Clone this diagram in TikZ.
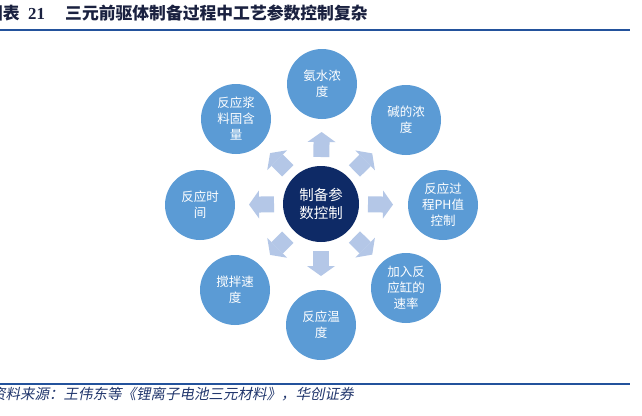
\documentclass[tikz,border=0pt]{standalone}
\usepackage{fontspec}
\setmainfont{Liberation Serif}
\newfontfamily\cjk{Noto Sans CJK SC}
\newfontfamily\cjkit[FakeSlant=0.2]{Noto Sans CJK SC}
\usetikzlibrary{arrows.meta,calc}

\definecolor{paramblue}{HTML}{5B9BD5}
\definecolor{corenavy}{HTML}{0E2A66}
\definecolor{pushblue}{HTML}{B4C7E7}
\definecolor{ruleblue}{HTML}{23529C}
\definecolor{titleink}{HTML}{1A2140}
\definecolor{sourceink}{HTML}{23386E}

\begin{document}
\begin{tikzpicture}[
  x=1pt, y=-1pt,
  param/.style={circle, fill=paramblue, text=white, minimum size=70pt, inner sep=0pt, align=center, font=\cjk\fontsize{12.5}{16}\selectfont},
  core/.style={circle, fill=corenavy, text=white, minimum size=76pt, inner sep=0pt, align=center, font=\cjk\fontsize{14.5}{18}\selectfont},
  push/.style={draw=pushblue, line width=16pt, -{Triangle[length=10pt, width=28pt, line width=0pt]}},
  hline/.style={draw=ruleblue, line width=2pt},
  caption/.style={inner sep=0pt, anchor=base west, text=titleink}
]

\path[use as bounding box, fill=white] (0,0) rectangle (642,415);

% heading
\node[caption, font=\cjk\bfseries\fontsize{16.8}{17}\selectfont] (figtag) at (-14,19) {图表};
\node[caption, font=\bfseries\fontsize{16.8}{17}\selectfont] (fignum) at (28,19) {21};
\node[caption, font=\cjk\bfseries\fontsize{16.8}{17}\selectfont] (figtitle) at (65,19)
  {三元前驱体制备过程中工艺参数控制复杂};
\coordinate (topl) at (0,30);
\coordinate (topr) at (630,30);
\draw[hline] (topl) -- (topr);

% centre and the eight parameters
\node[core] (core) at (321,204) {制备参\\数控制};

\node[param] (ammonia) at (322,84) {氨水浓\\度};
\node[param] (alkali) at (406,120) {碱的浓\\度};
\node[param] (ph) at (443,205) {反应过\\程PH值\\控制};
\node[param] (feed) at (406,288) {加入反\\应缸的\\速率};
\node[param] (temp) at (321,325) {反应温\\度};
\node[param] (stir) at (235,290) {搅拌速\\度};
\node[param] (time) at (200,205) {反应时\\间};
\node[param] (solids) at (236,119) {反应浆\\料固含\\量};

\draw[push] ($(core)!47pt!(ammonia)$) -- ($(core)!72pt!(ammonia)$);
\draw[push] ($(core)!47pt!(alkali)$) -- ($(core)!72pt!(alkali)$);
\draw[push] ($(core)!47pt!(ph)$) -- ($(core)!72pt!(ph)$);
\draw[push] ($(core)!47pt!(feed)$) -- ($(core)!72pt!(feed)$);
\draw[push] ($(core)!47pt!(temp)$) -- ($(core)!72pt!(temp)$);
\draw[push] ($(core)!47pt!(stir)$) -- ($(core)!72pt!(stir)$);
\draw[push] ($(core)!47pt!(time)$) -- ($(core)!72pt!(time)$);
\draw[push] ($(core)!47pt!(solids)$) -- ($(core)!72pt!(solids)$);

% source line
\coordinate (botl) at (0,384);
\coordinate (botr) at (630,384);
\draw[hline] (botl) -- (botr);
\node[caption, text=sourceink, font=\cjkit\fontsize{14.5}{15}\selectfont] (source) at (-9,399)
  {资料来源：王伟东等《锂离子电池三元材料》，华创证券};

\end{tikzpicture}
\end{document}
